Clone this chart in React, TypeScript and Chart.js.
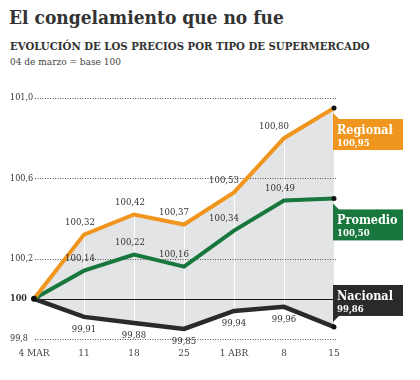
import React, { useEffect, useRef } from 'react';
import { Chart, registerables } from 'chart.js';

Chart.register(...registerables);

const categories = ['4 MAR', '11', '18', '25', '1 ABR', '8', '15'];
const regional = [100, 100.32, 100.42, 100.37, 100.53, 100.8, 100.95];
const promedio = [100, 100.14, 100.22, 100.16, 100.34, 100.49, 100.5];
const nacional = [100, 99.91, 99.88, 99.85, 99.94, 99.96, 99.86];
const seriesNames = ['Regional', 'Promedio', 'Nacional'];
const yTickValues = [99.8, 100, 100.2, 100.6, 101.0];
const yTickLabels = ['99,8', '100', '100,2', '100,6', '101,0'];

const ORANGE = '#f0961e';
const GREEN = '#18773d';
const DARK = '#2a2a2a';
const FILL = '#e3e4e6';
const FONT = '"DejaVu Serif Condensed", "DejaVu Serif", serif';

const fmt = (v: number) => v.toFixed(2).replace('.', ',');

const seriesStyle = [
  { color: ORANGE, labelSide: 'above', box: 'below' },
  { color: GREEN, labelSide: 'above', box: 'below' },
  { color: DARK, labelSide: 'below', box: 'above' },
];

const decor = {
  id: 'decor',
  beforeDatasetsDraw(chart: any) {
    const { ctx, chartArea, scales } = chart;
    const x = scales.x;
    const y = scales.y;
    ctx.save();
    // white vertical separators inside the fill
    ctx.strokeStyle = '#ffffff';
    ctx.lineWidth = 1;
    for (let i = 1; i < categories.length - 1; i++) {
      const px = Math.round(x.getPixelForValue(i)) + 0.5;
      ctx.beginPath();
      ctx.moveTo(px, y.getPixelForValue(regional[i]));
      ctx.lineTo(px, y.getPixelForValue(nacional[i]));
      ctx.stroke();
    }
    // horizontal grid lines
    yTickValues.forEach((v) => {
      const py = Math.round(y.getPixelForValue(v)) + 0.5;
      ctx.beginPath();
      if (v === 100) {
        ctx.setLineDash([]);
        ctx.strokeStyle = '#1a1a1a';
        ctx.lineWidth = 1.2;
      } else {
        ctx.setLineDash([1, 1.5]);
        ctx.strokeStyle = '#555';
        ctx.lineWidth = 1;
      }
      ctx.moveTo(chartArea.left + 1, py);
      ctx.lineTo(chartArea.right + 2, py);
      ctx.stroke();
    });
    ctx.restore();
  },
  afterDatasetsDraw(chart: any) {
    const { ctx, chartArea } = chart;
    ctx.save();
    // value labels
    ctx.font = `9.5px ${FONT}`;
    ctx.fillStyle = '#333';
    ctx.textAlign = 'center';
    ctx.textBaseline = 'middle';
    chart.data.datasets.forEach((ds: any, di: number) => {
      const meta = chart.getDatasetMeta(di);
      const side = seriesStyle[di].labelSide;
      for (let i = 1; i < ds.data.length - 1; i++) {
        const pt = meta.data[i];
        const next = meta.data[i + 1];
        let dx = 0;
        let dy = 0;
        if (side === 'above') {
          dx = -4;
          if (next && pt.y - next.y > 25) dx -= 6;
          dy = -12;
        } else {
          dy = 13;
        }
        ctx.fillText(fmt(ds.data[i]), pt.x + dx, pt.y + dy);
      }
    });
    // start dot
    const p0 = chart.getDatasetMeta(0).data[0];
    ctx.fillStyle = '#111';
    ctx.beginPath();
    ctx.arc(p0.x, p0.y, 3, 0, Math.PI * 2);
    ctx.fill();
    // end dots and end boxes
    chart.data.datasets.forEach((ds: any, di: number) => {
      const meta = chart.getDatasetMeta(di);
      const last = meta.data[meta.data.length - 1];
      ctx.fillStyle = '#111';
      ctx.beginPath();
      ctx.arc(last.x, last.y, 2.5, 0, Math.PI * 2);
      ctx.fill();

      const st = seriesStyle[di];
      const x0 = chartArea.right - 1;
      const w = 70;
      const h = 31;
      const top = st.box === 'below' ? last.y + 11 : last.y - 11 - h;
      ctx.fillStyle = st.color;
      ctx.fillRect(x0, top, w, h);
      ctx.beginPath();
      if (st.box === 'below') {
        ctx.moveTo(x0, top + 1);
        ctx.lineTo(x0, top - 6);
        ctx.lineTo(x0 + 7, top + 1);
      } else {
        ctx.moveTo(x0, top + h - 1);
        ctx.lineTo(x0, top + h + 6);
        ctx.lineTo(x0 + 7, top + h - 1);
      }
      ctx.closePath();
      ctx.fill();
      ctx.fillStyle = '#fff';
      ctx.textAlign = 'left';
      ctx.textBaseline = 'alphabetic';
      ctx.font = `bold 12.5px ${FONT}`;
      ctx.fillText(seriesNames[di], x0 + 4, top + 15);
      ctx.font = `bold 9.5px ${FONT}`;
      ctx.fillText(fmt(ds.data[ds.data.length - 1]), x0 + 4, top + 27);
    });
    ctx.restore();
  },
};

export default function App() {
  const ref = useRef<HTMLCanvasElement | null>(null);
  useEffect(() => {
    if (!ref.current) return;
    const chart = new Chart(ref.current, {
      type: 'line',
      data: {
        labels: categories,
        datasets: [
          {
            label: seriesNames[0],
            data: regional,
            borderColor: ORANGE,
            backgroundColor: FILL,
            borderWidth: 4,
            pointRadius: 0,
            tension: 0,
            fill: '+2',
          },
          {
            label: seriesNames[1],
            data: promedio,
            borderColor: GREEN,
            borderWidth: 4,
            pointRadius: 0,
            tension: 0,
            fill: false,
          },
          {
            label: seriesNames[2],
            data: nacional,
            borderColor: DARK,
            borderWidth: 4.5,
            pointRadius: 0,
            tension: 0,
            fill: false,
          },
        ],
      },
      options: {
        animation: false,
        responsive: false,
        layout: { padding: { left: 10, right: 86, top: 98, bottom: 0 } },
        plugins: {
          legend: { display: false },
          tooltip: { enabled: false },
          filler: { drawTime: 'beforeDatasetsDraw' },
        } as any,
        scales: {
          x: {
            offset: false,
            grid: { display: false, drawTicks: false },
            border: { display: false },
            ticks: {
              padding: 8,
              autoSkip: false,
              maxRotation: 0,
              color: '#444',
              font: { family: FONT, size: 10 },
            },
            afterFit: (s: any) => {
              s.height = 41;
            },
          },
          y: {
            min: 99.8,
            max: 101,
            grid: { display: false, drawTicks: false },
            border: { display: false },
            afterBuildTicks: (s: any) => {
              s.ticks = yTickValues.map((v) => ({ value: v }));
            },
            ticks: {
              crossAlign: 'far',
              padding: 0,
              color: '#333',
              callback: (v: any) => {
                const i = yTickValues.indexOf(Number(v));
                return i >= 0 ? yTickLabels[i] : '';
              },
              font: (c: any) => ({
                family: FONT,
                size: 9,
                weight: c.tick && c.tick.value === 100 ? 'bold' : 'normal',
              }),
            },
            afterFit: (s: any) => {
              s.width = 24;
            },
          },
        } as any,
      },
      plugins: [decor],
    });
    return () => chart.destroy();
  }, []);

  return (
    <div style={{ position: 'fixed', left: 0, top: 0, width: 420, height: 380, background: '#fff', overflow: 'hidden' }}>
      <div style={{ position: 'absolute', left: 9, top: 4, fontFamily: FONT, fontWeight: 'bold', fontSize: 19, color: '#333', whiteSpace: 'nowrap', lineHeight: '26px' }}>
        El congelamiento que no fue
      </div>
      <div style={{ position: 'absolute', left: 10, top: 39, fontFamily: FONT, fontWeight: 'bold', fontSize: 11.3, color: '#333', whiteSpace: 'nowrap', lineHeight: '14px' }}>
        EVOLUCIÓN DE LOS PRECIOS POR TIPO DE SUPERMERCADO
      </div>
      <div style={{ position: 'absolute', left: 10, top: 55, fontFamily: FONT, fontSize: 10, color: '#444', whiteSpace: 'nowrap', lineHeight: '14px' }}>
        04 de marzo = base 100
      </div>
      <canvas ref={ref} width={420} height={380} style={{ position: 'absolute', left: 0, top: 0 }} />
    </div>
  );
}
